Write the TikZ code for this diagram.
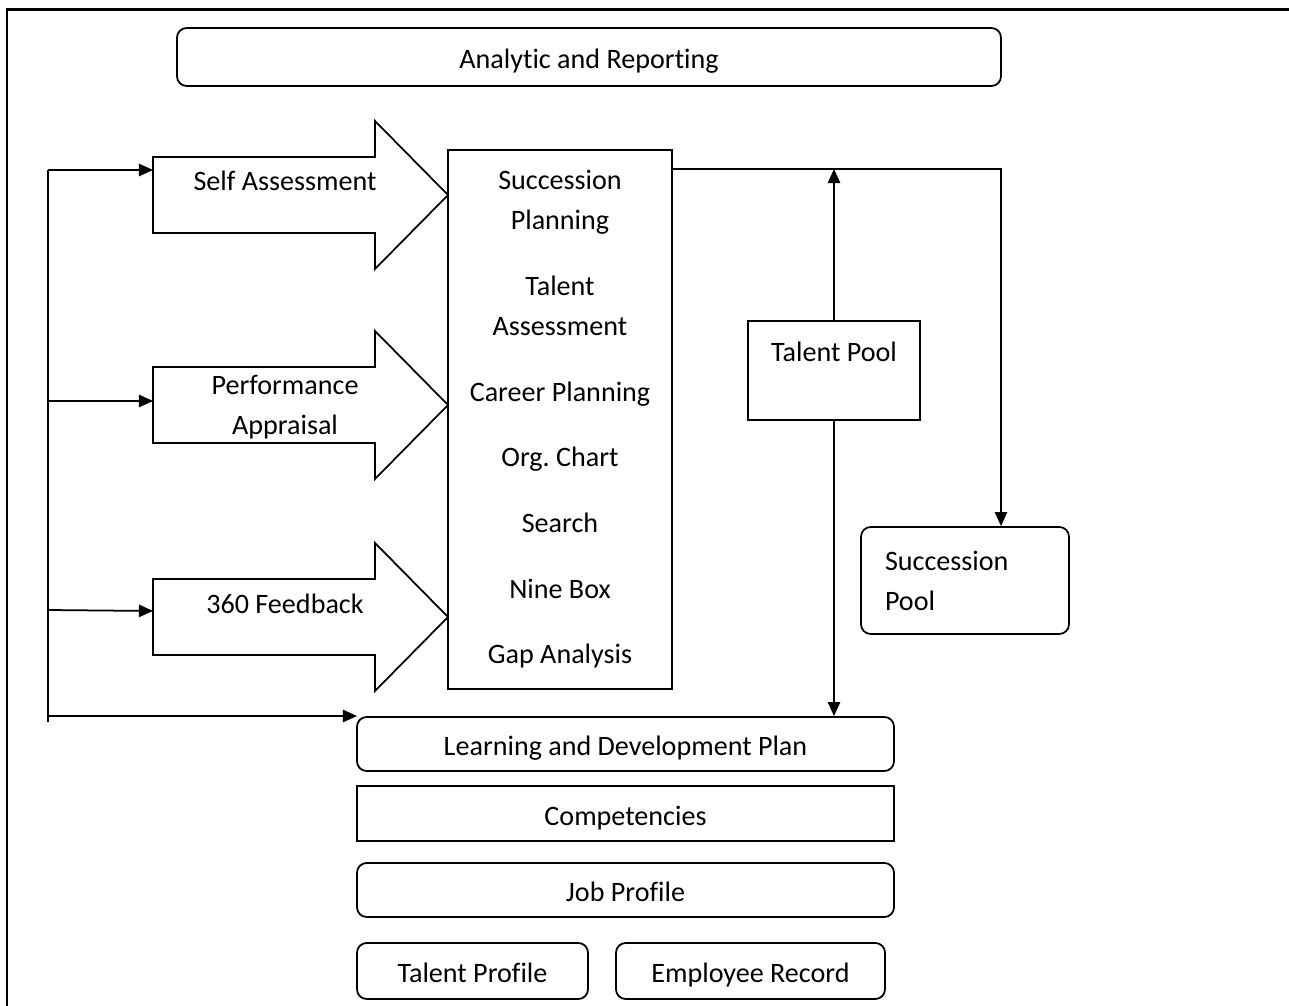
\documentclass[tikz,border=0pt]{standalone}
\usepackage{fontspec}
\setmainfont[Ligatures=NoCommon]{Carlito}
\usetikzlibrary{arrows.meta,positioning}
\frenchspacing
\newcommand{\tfont}{\fontsize{16}{22.7}\selectfont}
\tikzset{
  plainbox/.style={draw,line width=1pt,inner sep=0pt,font=\tfont,align=center},
  roundbox/.style={plainbox,rounded corners=5.5pt},
  oneline/.style={text height=14.5pt,text depth=1pt},
  link/.style={line width=1pt,-{Triangle[length=8pt,width=7pt]}},
}
% block from corner (x1,y1) to (x2,y2), in pixels
\newcommand{\blockat}[7]{%
  \node[#2,minimum width={(#5-#3)*0.02cm},minimum height={(#6-#4)*0.02cm}]
    (#1) at ({(#3+#5)/2},{(#4+#6)/2}) {#7};%
}
% fat input arrow: name, tip y, text y, inlet y, text
\newcommand{\feedarrow}[5]{%
  \draw[line width=1pt] (153,{#2-38}) -- (375,{#2-38}) -- (375,{#2-74})
    -- (448,#2) -- (375,{#2+74}) -- (375,{#2+38}) -- (153,{#2+38}) -- cycle;%
  \node[font=\tfont,align=center] (#1) at (285,#3) {#5};%
  \coordinate (#1-in) at (153,#4);%
}

\begin{document}
\begin{tikzpicture}[x=0.02cm,y=-0.02cm]
  \useasboundingbox (0,0) rectangle (1289,1006);
  \draw[line width=1.7pt] (7,1006) -- (7,10) -- (1289,10);

  \blockat{report}{roundbox,oneline}{177}{28}{1001}{86}{Analytic and Reporting}

  \feedarrow{self}{195}{181}{170}{Self Assessment}
  \feedarrow{perf}{405}{407}{401}{Performance\\Appraisal}
  \feedarrow{fback}{617}{604}{611}{360 Feedback}

  \blockat{hub}{plainbox}{448}{150}{672}{689}{%
    Succession\\Planning\\[14.7pt]Talent\\Assessment\\[14.7pt]Career Planning\\[14.7pt]%
    Org. Chart\\[14.7pt]Search\\[14.7pt]Nine Box\\[14.7pt]Gap Analysis}
  \blockat{tpool}{plainbox}{748}{321}{920}{420}{}
  \node[font=\tfont] (tpooltext) at (834,352) {Talent Pool};
  \node[roundbox,align=left,text width=3.2cm,inner xsep=0.48cm,minimum height=2.14cm]
    (spool) at (965,580.5) {Succession\\Pool};

  \blockat{devplan}{roundbox,oneline}{357}{717}{894}{771}{Learning and Development Plan}
  \blockat{comp}{plainbox,oneline}{357}{786}{894}{841}{Competencies}
  \blockat{job}{roundbox,oneline}{357}{863}{894}{917}{Job Profile}
  \blockat{tprof}{roundbox,oneline}{357}{943}{588}{999}{Talent Profile}
  \blockat{erec}{roundbox,oneline}{616}{943}{885}{999}{Employee Record}

  % feedback bus on the left
  \coordinate (busS) at (48,170);
  \coordinate (busP) at (48,401);
  \coordinate (busF) at (48,610);
  \coordinate (busL) at (48,716);
  \coordinate (busEnd) at (48,722);
  \coordinate (devin) at (357,716);
  \draw[line width=1pt] (busS) -- (busEnd);
  \draw[link] (busS) -- (self-in);
  \draw[link] (busP) -- (perf-in);
  \draw[link] (busF) -- (fback-in);
  \draw[link] (busL) -- (devin);

  % succession and talent pool links
  \coordinate (corner) at (1001,169);
  \draw[link] (hub.east |- corner) -- (corner) -- (corner |- spool.north);
  \draw[link] (tpool.north) -- (tpool.north |- corner);
  \draw[link] (tpool.south) -- (tpool.south |- devplan.north);
\end{tikzpicture}
\end{document}
